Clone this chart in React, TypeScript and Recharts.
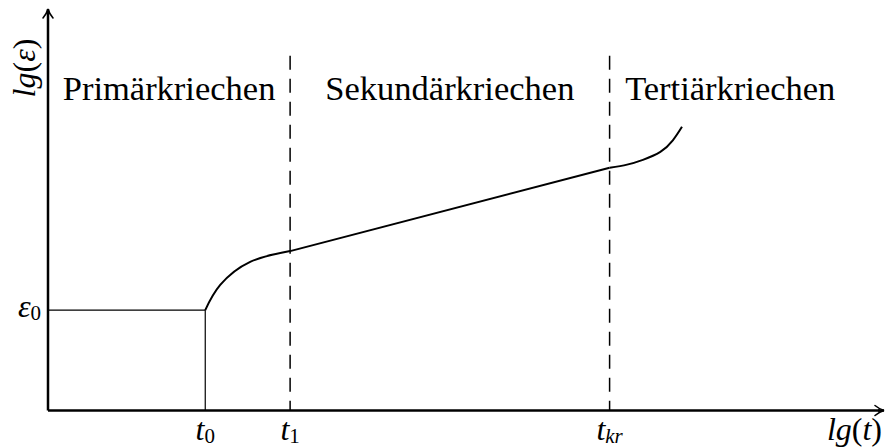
import React from 'react';
import {
  ComposedChart,
  Line,
  XAxis,
  YAxis,
  ReferenceLine,
  ReferenceDot,
} from 'recharts';

// Characteristic times on the lg(t) axis
const T0 = 1.89;
const T1 = 2.91;
const TKR = 6.75;
const xTicks = [T0, T1, TKR];
const xTickSubscripts = ['0', '1', 'kr'];

// Initial strain level
const EPS0 = 2.52;
const yTicks = [EPS0];

// Elastic start: constant strain up to t0
const initialStrain = [
  { x: 0, y: EPS0 },
  { x: T0, y: EPS0 },
  { x: T0, y: 0 },
];

// Primary creep (decelerating)
const primaryCreep = [
  { x: 1.89, y: 2.52 },
  { x: 2.07, y: 3.15 },
  { x: 2.43, y: 3.73 },
  { x: 2.91, y: 4.0 },
];

// Secondary creep (steady state)
const secondaryCreep = [
  { x: 2.91, y: 4.0 },
  { x: 6.75, y: 6.09 },
];

// Tertiary creep (accelerating)
const tertiaryCreep = [
  { x: 6.75, y: 6.09 },
  { x: 6.96, y: 6.17 },
  { x: 7.15, y: 6.29 },
  { x: 7.36, y: 6.49 },
  { x: 7.51, y: 6.78 },
  { x: 7.62, y: 7.12 },
];

// Stage names, positioned between the boundaries
const stageLabelLevel = 7.79;
const stages = [
  { name: 'Primärkriechen', x: (0 + T1) / 2 },
  { name: 'Sekundärkriechen', x: (T1 + TKR) / 2 },
  { name: 'Tertiärkriechen', x: 8.2 },
];
const dashedTop = 8.9;

const FONT = 'Liberation Serif';

const XTick = (props: any) => {
  const { x, y, payload } = props;
  const i = xTicks.indexOf(payload.value);
  const sub = xTickSubscripts[i] ?? '';
  return (
    <text
      x={x}
      y={y + 29.5}
      textAnchor="middle"
      fontFamily={FONT}
      fontSize={32}
      fill="#000"
    >
      <tspan fontStyle="italic">t</tspan>
      <tspan fontSize={21} fontStyle={sub === 'kr' ? 'italic' : 'normal'} dy={3}>
        {sub}
      </tspan>
    </text>
  );
};

const YTick = (props: any) => {
  const { x, y } = props;
  return (
    <text x={x - 7} y={y + 7} textAnchor="end" fontFamily={FONT} fontSize={32} fill="#000">
      <tspan fontStyle="italic">ε</tspan>
      <tspan fontSize={21} dy={3}>0</tspan>
    </text>
  );
};

// Arrow tip at the end of the lg(t) axis plus its title
const XArrow = (props: any) => {
  const { cx, cy } = props;
  const tx = cx + 4;
  return (
    <g>
      <line x1={cx - 2} y1={cy} x2={tx} y2={cy} stroke="#000" strokeWidth={2.5} />
      <path
        d={`M ${tx - 9} ${cy - 5} Q ${tx - 4} ${cy - 1} ${tx} ${cy} Q ${tx - 4} ${cy + 1} ${tx - 9} ${cy + 5}`}
        fill="none"
        stroke="#000"
        strokeWidth={1.6}
        strokeLinecap="round"
      />
      <text x={cx + 2} y={cy + 29} textAnchor="end" fontFamily={FONT} fontSize={32} fill="#000">
        <tspan fontStyle="italic">lg</tspan>
        <tspan>(</tspan>
        <tspan fontStyle="italic">t</tspan>
        <tspan>)</tspan>
      </text>
    </g>
  );
};

// Arrow tip at the top of the lg(ε) axis plus its rotated title
const YArrow = (props: any) => {
  const { cx, cy } = props;
  const ty = cy - 3;
  const lx = cx - 13;
  const ly = cy + 56;
  return (
    <g>
      <line x1={cx} y1={cy + 2} x2={cx} y2={ty} stroke="#000" strokeWidth={2.5} />
      <path
        d={`M ${cx - 5} ${ty + 9} Q ${cx - 1} ${ty + 4} ${cx} ${ty} Q ${cx + 1} ${ty + 4} ${cx + 5} ${ty + 9}`}
        fill="none"
        stroke="#000"
        strokeWidth={1.6}
        strokeLinecap="round"
      />
      <text
        x={lx}
        y={ly}
        transform={`rotate(-90 ${lx} ${ly})`}
        textAnchor="middle"
        fontFamily={FONT}
        fontSize={32}
        fill="#000"
      >
        <tspan fontStyle="italic">lg</tspan>
        <tspan>(</tspan>
        <tspan fontStyle="italic">ε</tspan>
        <tspan>)</tspan>
      </text>
    </g>
  );
};

const stageLabel = (name: string) => (props: any) => {
  const { cx, cy } = props;
  return (
    <text x={cx} y={cy} textAnchor="middle" fontFamily={FONT} fontSize={34.5} fill="#000">
      {name}
    </text>
  );
};

export default function App() {
  return (
    <div style={{ position: 'absolute', left: 0, top: 0, width: 886, height: 448, background: '#fff' }}>
      <ComposedChart
        width={886}
        height={448}
        margin={{ top: 12, right: 6, bottom: 0, left: 0 }}
      >
        <XAxis
          type="number"
          dataKey="x"
          domain={[0, 10]}
          ticks={xTicks}
          allowDataOverflow
          height={37.5}
          tickLine={false}
          tickSize={0}
          tickMargin={0}
          axisLine={{ stroke: '#000', strokeWidth: 2.5 }}
          tick={<XTick />}
          interval={0}
        />
        <YAxis
          type="number"
          dataKey="y"
          domain={[0, 10]}
          ticks={yTicks}
          allowDataOverflow
          width={48}
          tickLine={false}
          tickSize={0}
          tickMargin={0}
          axisLine={{ stroke: '#000', strokeWidth: 2.5 }}
          tick={<YTick />}
          interval={0}
        />

        <ReferenceLine
          segment={[{ x: T1, y: dashedTop }, { x: T1, y: 0 }]}
          stroke="#000"
          strokeWidth={1.5}
          strokeDasharray="14 9"
        />
        <ReferenceLine
          segment={[{ x: TKR, y: dashedTop }, { x: TKR, y: 0 }]}
          stroke="#000"
          strokeWidth={1.5}
          strokeDasharray="14 9"
        />

        <Line
          data={initialStrain}
          dataKey="y"
          type="linear"
          stroke="#000"
          strokeWidth={1.2}
          dot={false}
          activeDot={false}
          isAnimationActive={false}
        />
        <Line
          data={primaryCreep}
          dataKey="y"
          type="natural"
          stroke="#000"
          strokeWidth={2}
          dot={false}
          activeDot={false}
          isAnimationActive={false}
        />
        <Line
          data={secondaryCreep}
          dataKey="y"
          type="linear"
          stroke="#000"
          strokeWidth={2}
          dot={false}
          activeDot={false}
          isAnimationActive={false}
        />
        <Line
          data={tertiaryCreep}
          dataKey="y"
          type="natural"
          stroke="#000"
          strokeWidth={2}
          dot={false}
          activeDot={false}
          isAnimationActive={false}
        />

        {stages.map((s) => (
          <ReferenceDot
            key={s.name}
            x={s.x}
            y={stageLabelLevel}
            r={0}
            ifOverflow="visible"
            shape={stageLabel(s.name)}
          />
        ))}

        <ReferenceDot x={10} y={0} r={0} ifOverflow="visible" shape={<XArrow />} />
        <ReferenceDot x={0} y={10} r={0} ifOverflow="visible" shape={<YArrow />} />
      </ComposedChart>
    </div>
  );
}
